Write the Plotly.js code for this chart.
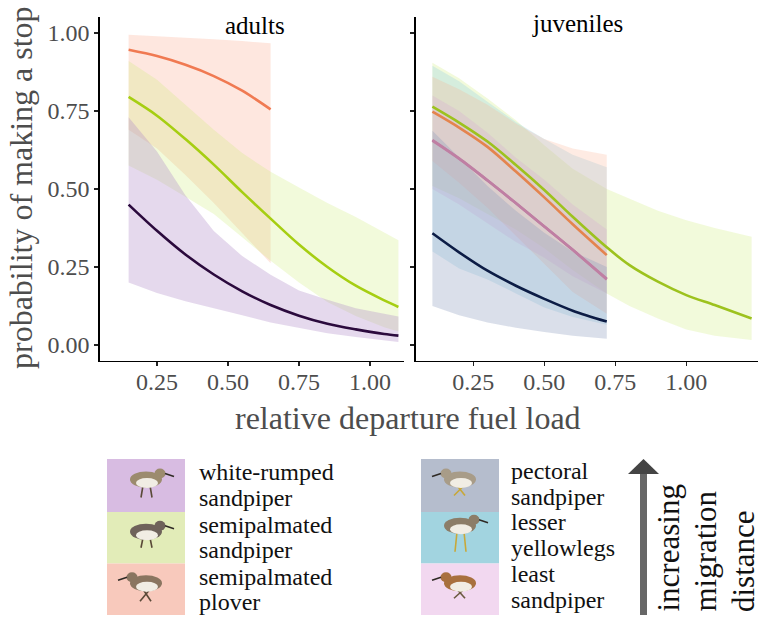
<!DOCTYPE html>
<html>
<head>
<meta charset="utf-8">
<script src="https://cdn.plot.ly/plotly-3.0.1.min.js"></script>
<style>
html,body{margin:0;padding:0;background:#fff;}
#chart{width:765px;height:623px;}
</style>
</head>
<body>
<div id="chart"></div>
<script>
// ---------- data ----------
const xTickVals = [0.25, 0.5, 0.75, 1.0];
const xTickText = ["0.25", "0.50", "0.75", "1.00"];
const yTickVals = [0, 0.25, 0.5, 0.75, 1.0];
const yTickText = ["0.00", "0.25", "0.50", "0.75", "1.00"];

// adults
const adultX = [0.15, 0.25, 0.35, 0.45, 0.55, 0.65, 0.75, 0.85, 0.95, 1.05, 1.10];
const ploverAdultX = [0.15, 0.25, 0.35, 0.45, 0.55, 0.65];
const ploverAdultFit = [0.946, 0.926, 0.898, 0.862, 0.815, 0.755];
const ploverAdultHi = [0.994, 0.99, 0.985, 0.98, 0.974, 0.967];
const ploverAdultLo = [0.69, 0.63, 0.545, 0.455, 0.36, 0.262];
const sesaAdultFit = [0.795, 0.735, 0.66, 0.578, 0.49, 0.405, 0.322, 0.25, 0.19, 0.143, 0.122];
const sesaAdultHi = [0.91, 0.85, 0.77, 0.69, 0.615, 0.555, 0.505, 0.455, 0.41, 0.36, 0.336];
const sesaAdultLo = [0.575, 0.53, 0.475, 0.42, 0.345, 0.27, 0.2, 0.138, 0.093, 0.057, 0.043];
const wrsaAdultFit = [0.45, 0.366, 0.29, 0.226, 0.172, 0.128, 0.094, 0.068, 0.05, 0.035, 0.03];
const wrsaAdultHi = [0.73, 0.62, 0.48, 0.365, 0.285, 0.225, 0.175, 0.145, 0.118, 0.10, 0.091];
const wrsaAdultLo = [0.20, 0.167, 0.14, 0.118, 0.095, 0.072, 0.054, 0.038, 0.026, 0.015, 0.01];

// juveniles
const juvX = [0.106, 0.2, 0.3, 0.4, 0.5, 0.6, 0.72];
const sesaJuvX = [0.106, 0.2, 0.3, 0.4, 0.5, 0.6, 0.72, 0.8, 0.9, 1.0, 1.1, 1.23];
const sesaJuvFit = [0.764, 0.713, 0.652, 0.577, 0.497, 0.411, 0.313, 0.256, 0.203, 0.16, 0.128, 0.085];
const sesaJuvHi = [0.905, 0.855, 0.79, 0.72, 0.64, 0.565, 0.50, 0.47, 0.43, 0.40, 0.375, 0.347];
const sesaJuvLo = [0.51, 0.47, 0.42, 0.37, 0.31, 0.24, 0.165, 0.125, 0.085, 0.05, 0.03, 0.016];
const ploverJuvFit = [0.748, 0.697, 0.635, 0.556, 0.473, 0.387, 0.288];
const ploverJuvHi = [0.86, 0.82, 0.77, 0.71, 0.66, 0.63, 0.61];
const ploverJuvLo = [0.59, 0.52, 0.44, 0.35, 0.26, 0.17, 0.10];
const leyeJuvFit = [0.655, 0.597, 0.527, 0.454, 0.38, 0.305, 0.212];
const leyeJuvHi = [0.895, 0.845, 0.78, 0.715, 0.66, 0.61, 0.57];
const leyeJuvLo = [0.30, 0.245, 0.21, 0.165, 0.12, 0.09, 0.065];
const lesaJuvFit = [0.657, 0.598, 0.528, 0.455, 0.38, 0.305, 0.21];
const lesaJuvHi = [0.80, 0.75, 0.68, 0.60, 0.53, 0.45, 0.37];
const lesaJuvLo = [0.50, 0.45, 0.39, 0.33, 0.28, 0.22, 0.165];
const pesaJuvFit = [0.358, 0.297, 0.238, 0.19, 0.148, 0.11, 0.075];
const pesaJuvHi = [0.687, 0.60, 0.51, 0.43, 0.36, 0.30, 0.25];
const pesaJuvLo = [0.125, 0.095, 0.072, 0.055, 0.042, 0.03, 0.02];

// legend
const legendLeftLines = [["white-rumped", "sandpiper"], ["semipalmated", "sandpiper"], ["semipalmated", "plover"]];
const legendRightLines = [["pectoral", "sandpiper"], ["lesser", "yellowlegs"], ["least", "sandpiper"]];
const arrowWords = ["increasing", "migration", "distance"];
const panelNames = ["adults", "juveniles"];
const yTitle = "probability of making a stop";
const xTitle = "relative departure fuel load";

// ---------- styling ----------
const W = 765, H = 623;
const px = x => x / W;
const py = y => 1 - y / H;
const FONT = "Liberation Serif";

const C = {
  wrsa: {fill: "rgba(175,140,200,0.33)", line: "#2B0A3D"},
  sesa: {fill: "rgba(205,235,110,0.25)", line: "#A6CE12"},
  sesaJ: {fill: "rgba(205,235,110,0.25)", line: "#9DC21E"},
  sepl: {fill: "rgba(250,170,140,0.28)", line: "#F07A52"},
  seplJ: {fill: "rgba(250,170,140,0.24)", line: "#E4844E"},
  pesa: {fill: "rgba(140,155,190,0.32)", line: "#0C1C45"},
  leye: {fill: "rgba(140,205,225,0.28)", line: "#BF7FA3"},
  lesa: {fill: "rgba(215,160,215,0.24)", line: "#BF7FA3"}
};

function ribbon(xs, lo, hi, col, xa, ya) {
  return {
    x: xs.concat(xs.slice().reverse()),
    y: hi.concat(lo.slice().reverse()),
    xaxis: xa, yaxis: ya, type: "scatter", mode: "lines",
    fill: "toself", fillcolor: col.fill, line: {width: 0, color: "rgba(0,0,0,0)"},
    hoverinfo: "skip", showlegend: false
  };
}
function fit(xs, ys, col, xa, ya) {
  return {
    x: xs, y: ys, xaxis: xa, yaxis: ya, type: "scatter", mode: "lines",
    line: {color: col.line, width: 2.6, shape: "spline", smoothing: 0.9},
    hoverinfo: "skip", showlegend: false
  };
}

const traces = [
  ribbon(ploverAdultX, ploverAdultLo, ploverAdultHi, C.sepl, "x", "y"),
  ribbon(adultX, sesaAdultLo, sesaAdultHi, C.sesa, "x", "y"),
  ribbon(adultX, wrsaAdultLo, wrsaAdultHi, C.wrsa, "x", "y"),
  fit(ploverAdultX, ploverAdultFit, C.sepl, "x", "y"),
  fit(adultX, sesaAdultFit, C.sesa, "x", "y"),
  fit(adultX, wrsaAdultFit, C.wrsa, "x", "y"),

  ribbon(sesaJuvX, sesaJuvLo, sesaJuvHi, C.sesaJ, "x2", "y2"),
  ribbon(juvX, leyeJuvLo, leyeJuvHi, C.leye, "x2", "y2"),
  ribbon(juvX, ploverJuvLo, ploverJuvHi, C.seplJ, "x2", "y2"),
  ribbon(juvX, lesaJuvLo, lesaJuvHi, C.lesa, "x2", "y2"),
  ribbon(juvX, pesaJuvLo, pesaJuvHi, C.pesa, "x2", "y2"),
  fit(juvX, leyeJuvFit, C.leye, "x2", "y2"),
  fit(juvX, lesaJuvFit, C.lesa, "x2", "y2"),
  fit(juvX, pesaJuvFit, C.pesa, "x2", "y2"),
  fit(juvX, ploverJuvFit, C.seplJ, "x2", "y2"),
  fit(sesaJuvX, sesaJuvFit, C.sesaJ, "x2", "y2")
];

const yDom = [1 - 360.6 / H, 1 - 17.4 / H];
const axisCommon = {
  showline: true, linecolor: "#000", linewidth: 1.6, mirror: false,
  ticks: "outside", ticklen: 4, tickwidth: 1.2, tickcolor: "#222",
  showgrid: false, zeroline: false, automargin: false, fixedrange: true,
  tickfont: {family: FONT, size: 24, color: "#4D4D4D"}
};

// legend shapes and annotations
const shapes = [];
const annotations = [];
const boxY = [[459, 512], [512, 563.5], [563.5, 615]];
const leftBoxCols = ["#D8BCE2", "#E2ECB8", "#F8C9BC"];
const rightBoxCols = ["#B5BDCD", "#A2D4E0", "#F2D8F0"];
function rectPx(x0, y0, x1, y1, col) {
  shapes.push({type: "rect", xref: "paper", yref: "paper", x0: px(x0), x1: px(x1), y0: py(y1), y1: py(y0),
    fillcolor: col, line: {width: 0}, layer: "above"});
}
function ellPx(cx, cy, rx, ry, col) {
  shapes.push({type: "circle", xref: "paper", yref: "paper", x0: px(cx - rx), x1: px(cx + rx), y0: py(cy + ry), y1: py(cy - ry),
    fillcolor: col, line: {width: 0}, layer: "above"});
}
function linePx(x0, y0, x1, y1, col, w) {
  shapes.push({type: "line", xref: "paper", yref: "paper", x0: px(x0), x1: px(x1), y0: py(y0), y1: py(y1),
    line: {color: col, width: w}, layer: "above"});
}
function bird(cx, cy, dir, leg, body, legCol) {
  linePx(cx - 3, cy + 4, cx - 5 * dir, cy + 4 + leg, legCol, 1.6);
  linePx(cx + 4, cy + 4, cx + 6 * dir, cy + 4 + leg, legCol, 1.6);
  ellPx(cx, cy - 2, 16, 8, body);
  ellPx(cx + 1, cy + 1.5, 11, 5, "#F1EDE4");
  ellPx(cx + 14 * dir, cy - 8, 5.5, 5, body);
  linePx(cx + 19 * dir, cy - 8, cx + 28 * dir, cy - 5, "#2F2A25", 1.6);
}
const leftBirdBody = ["#9C8B6E", "#6E625A", "#8A7560"];
const rightBirdBody = ["#A89C88", "#8C7D68", "#A8703E"];
const leftDir = [1, 1, -1], rightDir = [-1, 1, -1];
const leftLeg = [12, 10, 12], rightLeg = [10, 20, 9];
const rightLegCol = ["#C8A838", "#C8A838", "#6B5A40"];
const lineYLeft = [[472, 497.5], [524.5, 550], [576.5, 602]];
const lineYRight = [[470.5, 497], [522, 547.5], [573.5, 600]];
function txt(x, y, s) {
  annotations.push({xref: "paper", yref: "paper", x: px(x), y: py(y), xanchor: "left", yanchor: "middle",
    showarrow: false, text: s, font: {family: FONT, size: 24, color: "#111"}});
}
for (let i = 0; i < 3; i++) {
  rectPx(107, boxY[i][0], 185, boxY[i][1], leftBoxCols[i]);
  rectPx(421, boxY[i][0], 499, boxY[i][1], rightBoxCols[i]);
  const cy = (boxY[i][0] + boxY[i][1]) / 2 - 4;
  bird(146, cy, leftDir[i], leftLeg[i], leftBirdBody[i], "#5A4A38");
  bird(460, cy - (i === 1 ? 6 : 0), rightDir[i], rightLeg[i], rightBirdBody[i], rightLegCol[i]);
  for (let j = 0; j < 2; j++) {
    txt(197, lineYLeft[i][j], legendLeftLines[i][j]);
    txt(509, lineYRight[i][j], legendRightLines[i][j]);
  }
}
// arrow
rectPx(640, 472, 647, 615, "#676767");
shapes.push({type: "path", xref: "paper", yref: "paper",
  path: "M " + px(628) + " " + py(474) + " L " + px(643.5) + " " + py(459) + " L " + px(659) + " " + py(474) + " Z",
  fillcolor: "#444", line: {width: 0}, layer: "above"});
const arrowTextX = [668, 705, 743];
for (let i = 0; i < 3; i++) {
  annotations.push({xref: "paper", yref: "paper", x: px(arrowTextX[i]), y: py(614), xanchor: "center", yanchor: "bottom",
    textangle: -90, showarrow: false, text: arrowWords[i], font: {family: FONT, size: 31, color: "#111"}});
}
// panel titles
annotations.push({xref: "paper", yref: "paper", x: px(255), y: py(25), xanchor: "center", yanchor: "middle",
  showarrow: false, text: panelNames[0], font: {family: FONT, size: 25, color: "#000"}});
annotations.push({xref: "paper", yref: "paper", x: px(577), y: py(23), xanchor: "center", yanchor: "middle",
  showarrow: false, text: panelNames[1], font: {family: FONT, size: 25, color: "#000"}});
// axis titles
annotations.push({xref: "paper", yref: "paper", x: px(21), y: py(188), xanchor: "center", yanchor: "middle",
  textangle: -90, showarrow: false, text: yTitle, font: {family: FONT, size: 32, color: "#4D4D4D"}});
annotations.push({xref: "paper", yref: "paper", x: px(408), y: py(418), xanchor: "center", yanchor: "middle",
  showarrow: false, text: xTitle, font: {family: FONT, size: 32, color: "#4D4D4D"}});

const layout = {
  width: W, height: H,
  margin: {l: 0, r: 0, t: 0, b: 0, pad: 0},
  paper_bgcolor: "#fff", plot_bgcolor: "rgba(0,0,0,0)",
  showlegend: false,
  font: {family: FONT},
  xaxis: Object.assign({}, axisCommon, {domain: [100 / W, 404 / W], range: [0.0493, 1.1197], anchor: "y",
    tickmode: "array", tickvals: xTickVals, ticktext: xTickText, ticklabelstandoff: -5}),
  yaxis: Object.assign({}, axisCommon, {domain: yDom, range: [-0.05, 1.05], anchor: "x",
    tickmode: "array", tickvals: yTickVals, ticktext: yTickText}),
  xaxis2: Object.assign({}, axisCommon, {domain: [415.7 / W, 758 / W], range: [0.0472, 1.2525], anchor: "y2",
    tickmode: "array", tickvals: xTickVals, ticktext: xTickText, ticklabelstandoff: -5}),
  yaxis2: Object.assign({}, axisCommon, {domain: yDom, range: [-0.05, 1.05], anchor: "x2",
    tickmode: "array", tickvals: yTickVals, ticktext: yTickText, showticklabels: false}),
  shapes: shapes,
  annotations: annotations
};

Plotly.newPlot("chart", traces, layout, {staticPlot: true, displayModeBar: false});
</script>
</body>
</html>
